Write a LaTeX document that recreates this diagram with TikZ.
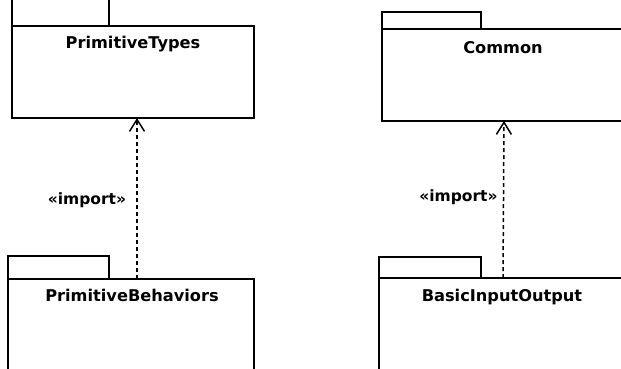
\documentclass[tikz,border=0pt]{standalone}
\usepackage{fontspec}
\setmainfont{DejaVu Sans}
\usetikzlibrary{arrows.meta}
\tikzset{
  pkgline/.style={draw=black, line width=1.6pt},
  pkgname/.style={font=\fontsize{16.2}{16}\selectfont\bfseries, anchor=base, inner sep=0pt},
  importlbl/.style={font=\fontsize{15.5}{16}\selectfont\bfseries, inner sep=0pt},
  importarrow/.style={draw=black, line width=1.5pt, dash pattern=on 4pt off 3pt,
    -{Straight Barb[length=12pt,width=15pt,line width=1.5pt]}},
}
\begin{document}
\begin{tikzpicture}[x=1pt,y=-1pt]
\useasboundingbox (0,0) rectangle (621,368);
\clip (0,0) rectangle (621,368);
\fill[white] (0,0) rectangle (621,368);
% PrimitiveTypes
\draw[pkgline] (12,-5) rectangle (109,26);
\draw[pkgline] (12,26) rectangle (254,118);
\coordinate (ptbot) at (137,118);
\node[pkgname] (pt) at (133,48) {PrimitiveTypes};
% Common
\draw[pkgline] (382,12) rectangle (481,29);
\draw[pkgline] (382,29) rectangle (626,121);
\coordinate (cmbot) at (504,121);
\node[pkgname] (cm) at (503,53.5) {Common};
% PrimitiveBehaviors
\draw[pkgline] (8,256) rectangle (109,279);
\draw[pkgline] (8,279) rectangle (254,375);
\coordinate (pbtop) at (137,279);
\node[pkgname] (pb) at (132,301) {PrimitiveBehaviors};
% BasicInputOutput
\draw[pkgline] (379,257) rectangle (481,278);
\draw[pkgline] (379,278) rectangle (626,375);
\coordinate (biotop) at (503,278);
\node[pkgname] (bio) at (502,301) {BasicInputOutput};
% dependencies
\draw[importarrow] (pbtop) -- (ptbot);
\draw[importarrow] (biotop) -- (cmbot);
\node[importlbl] (l1) at (87,200) {«import»};
\node[importlbl] (l2) at (458.5,197) {«import»};
\end{tikzpicture}
\end{document}
